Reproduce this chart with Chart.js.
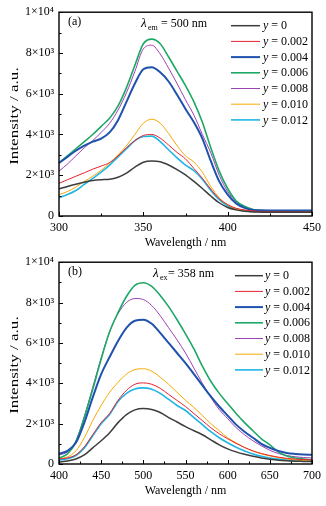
<!DOCTYPE html>
<html><head><meta charset="utf-8">
<script src="https://cdn.jsdelivr.net/npm/chart.js@4"></script>
<style>
html,body{margin:0;padding:0;background:#fff;}
#wrap{position:relative;width:326px;height:506px;background:#fff;}
#c1{position:absolute;left:0;top:0;width:326px;height:250px;}
#c2{position:absolute;left:0;top:250px;width:326px;height:256px;}
</style></head><body>
<div id="wrap"><canvas id="c1" width="326" height="250"></canvas><canvas id="c2" width="326" height="256"></canvas></div>
<script>
// ---------- data ----------
const seriesNames = ['0','0.002','0.004','0.006','0.008','0.010','0.012'];
const seriesColors = ['#3d3d3d','#e8212e','#1f52ad','#1ea866','#9b42b5','#f6a800','#20b5e4'];
const seriesWidths = [1.5,1,2,1.6,1,1,1.6];
const yTickLabels = ['0','2×10³','4×10³','6×10³','8×10³','1×10⁴'];
const xTitle = 'Wavelength / nm';
const yTitle = 'Intensity / a.u.';

// (a) excitation spectra, λem = 500 nm
const excWavelength = [300,305,310,315,320,325,330,335,340,345,350,355,360,365,370,375,380,385,390,395,400,405,410,415,420,430,440,450];
const exc_y0     = [1330,1450,1560,1660,1740,1780,1800,1900,2100,2400,2640,2700,2660,2500,2280,2020,1700,1350,980,650,420,300,230,200,190,180,180,180];
const exc_y0002  = [1600,1780,1950,2120,2300,2450,2620,2950,3350,3700,3950,4000,3820,3480,3120,2800,2330,1850,1320,850,560,380,300,250,220,210,200,200];
const exc_y0004  = [2600,2900,3200,3450,3650,3800,4100,4700,5600,6500,7200,7300,7050,6600,5950,5250,4600,3800,2700,1700,1050,620,400,300,280,270,270,270];
const exc_y0006  = [2600,2950,3300,3650,4000,4400,4800,5400,6300,7400,8450,8680,8450,7800,7100,6400,5600,4600,3350,2200,1350,750,480,320,260,240,240,240];
const exc_y0008  = [2200,2550,2950,3350,3700,4100,4550,5200,6050,7100,8200,8380,7950,7250,6500,5700,4950,4000,3100,2000,1200,700,450,320,270,250,250,250];
const exc_y0010  = [1050,1200,1420,1700,1950,2250,2600,3000,3450,4000,4550,4750,4550,4050,3450,2950,2650,2150,1450,900,550,350,260,220,210,200,200,200];
const exc_y0012  = [900,1050,1250,1550,1850,2150,2500,2900,3300,3700,3900,3920,3650,3250,2850,2500,2220,1800,1250,800,500,330,250,220,210,200,200,200];

// (b) emission spectra, λex = 358 nm
const emiWavelength = [400,410,420,430,440,450,460,470,480,490,500,510,520,530,540,550,560,570,580,590,600,610,620,630,640,650,660,670,680,690,700];
const emi_y0     = [100,150,250,450,800,1150,1550,2050,2450,2680,2750,2700,2550,2300,2080,1850,1650,1450,1200,950,750,600,480,380,300,240,190,160,140,130,120];
const emi_y0002  = [250,300,450,850,1450,2050,2500,3150,3650,3950,4020,3950,3750,3450,3150,2850,2500,2150,1800,1500,1250,1020,820,650,520,420,340,280,240,220,210];
const emi_y0004  = [500,650,1050,2050,3300,4450,5300,6100,6750,7100,7150,6950,6500,6000,5500,5000,4450,3900,3350,2850,2400,1950,1600,1300,1000,800,650,550,500,470,460];
const emi_y0006  = [300,500,1100,2300,3700,5200,6550,7500,8300,8850,8980,8800,8350,7800,7150,6450,5700,4850,4100,3500,3000,2500,2050,1650,1250,950,600,400,300,250,200];
const emi_y0008  = [450,600,1150,2350,3800,5250,6550,7450,8000,8200,8150,7850,7350,6750,6150,5500,4750,4000,3300,2700,2250,1800,1450,1150,900,680,520,420,360,320,300];
const emi_y0010  = [250,350,650,1300,2150,2900,3550,4050,4450,4680,4720,4600,4300,3950,3550,3160,2800,2400,2000,1650,1300,1050,820,640,500,400,320,250,200,170,150];
const emi_y0012  = [200,260,420,800,1400,2000,2450,3100,3500,3720,3770,3700,3500,3200,2900,2650,2300,1950,1600,1300,1050,830,650,500,380,300,240,190,160,140,130];

const excSeries = [exc_y0,exc_y0002,exc_y0004,exc_y0006,exc_y0008,exc_y0010,exc_y0012];
const emiSeries = [emi_y0,emi_y0002,emi_y0004,emi_y0006,emi_y0008,emi_y0010,emi_y0012];

// ---------- rendering ----------
const SERIF = "'Liberation Serif','Times New Roman',serif";

function buildDatasets(xs, series){
  return series.map((vals,i)=>({
    label: 'y = ' + seriesNames[i],
    data: xs.map((x,k)=>({x:x, y:vals[k]})),
    borderColor: seriesColors[i],
    backgroundColor: seriesColors[i],
    borderWidth: seriesWidths[i],
    pointRadius: 0,
    fill: false,
    cubicInterpolationMode: 'monotone'
  }));
}

function decor(o){
  return {
    id: 'decor',
    afterDatasetsDraw(chart){
      const {ctx, chartArea:a, scales:{x,y}} = chart;
      ctx.save();
      ctx.strokeStyle = '#000';
      ctx.lineWidth = 1;
      for (let v = o.xMin; v <= o.xMax; v += o.xMinor){
        const px = Math.round(x.getPixelForValue(v)) + 0.5;
        const major = ((v - o.xMin) % o.xMajor) === 0;
        ctx.beginPath(); ctx.moveTo(px, a.bottom); ctx.lineTo(px, a.bottom - (major ? 4 : 2.5)); ctx.stroke();
      }
      for (let v = 0; v <= 10000; v += 1000){
        const py = Math.round(y.getPixelForValue(v)) + 0.5;
        const major = (v % 2000) === 0;
        ctx.beginPath(); ctx.moveTo(a.left, py); ctx.lineTo(a.left + (major ? 4 : 2.5), py); ctx.stroke();
      }
      ctx.lineWidth = 1.4;
      ctx.strokeRect(a.left, a.top, a.right - a.left, a.bottom - a.top);
      ctx.restore();
    },
    afterDraw(chart){
      const {ctx, chartArea:a} = chart;
      ctx.save();
      ctx.fillStyle = '#000';
      ctx.textBaseline = 'alphabetic';
      // panel label
      ctx.font = '12px ' + SERIF;
      ctx.fillText(o.panel, 68, a.top + 13);
      // lambda annotation
      ctx.font = 'italic 13px ' + SERIF;
      ctx.fillText('λ', o.lamX, a.top + 15);
      ctx.font = '8px ' + SERIF;
      ctx.fillText(o.sub, o.lamX + 7, a.top + 18);
      ctx.font = '12px ' + SERIF;
      ctx.fillText(o.lamText, o.lamX + o.lamGap, a.top + 15);
      // legend
      chart.data.datasets.forEach((ds,i)=>{
        const cy = a.top + 13.5 + i*15.7;
        ctx.strokeStyle = ds.borderColor;
        ctx.lineWidth = ds.borderWidth;
        ctx.beginPath(); ctx.moveTo(o.legL1, cy); ctx.lineTo(o.legL2, cy); ctx.stroke();
        ctx.textBaseline = 'middle';
        ctx.font = 'italic 12px ' + SERIF;
        ctx.fillText('y', o.legT, cy + 0.5);
        const w = ctx.measureText('y').width;
        ctx.font = '12px ' + SERIF;
        ctx.fillText(' = ' + seriesNames[i], o.legT + w, cy + 0.5);
      });
      // y axis title (horizontally stretched as in the reference)
      ctx.translate(15, (a.top + a.bottom)/2 + 2);
      ctx.rotate(-Math.PI/2);
      ctx.scale(1.42, 1);
      ctx.textAlign = 'center';
      ctx.textBaseline = 'middle';
      ctx.font = '12px ' + SERIF;
      ctx.fillText(yTitle, 0, 0);
      ctx.restore();
    }
  };
}

function makeChart(id, xs, series, o){
  return new Chart(document.getElementById(id), {
    type: 'line',
    data: { datasets: buildDatasets(xs, series) },
    options: {
      responsive: false,
      animation: false,
      events: [],
      layout: { padding: { left: 0, right: 14, top: o.padTop, bottom: 0 } },
      plugins: { legend: { display: false }, tooltip: { enabled: false } },
      scales: {
        x: {
          type: 'linear', min: o.xMin, max: o.xMax,
          afterFit: s => { s.height = o.xHeight; },
          afterBuildTicks: s => { s.ticks = []; for (let v = o.xMin; v <= o.xMax; v += o.xMajor) s.ticks.push({value: v}); },
          grid: { display: false, drawTicks: false },
          border: { display: false },
          ticks: { color: '#000', font: { family: SERIF, size: 12 }, padding: 5, maxRotation: 0, autoSkip: false },
          title: { display: true, text: xTitle, color: '#000', font: { family: SERIF, size: 12 }, padding: { top: 0, bottom: o.titlePad } }
        },
        y: {
          type: 'linear', min: 0, max: 10000,
          afterFit: s => { s.width = 59; },
          grid: { display: false, drawTicks: false },
          border: { display: false },
          ticks: { stepSize: 2000, color: '#000', font: { family: SERIF, size: 12 }, padding: 5,
                   callback: v => yTickLabels[Math.round(v/2000)] }
        }
      }
    },
    plugins: [decor(o)]
  });
}

makeChart('c1', excWavelength, excSeries, {
  xMin: 300, xMax: 450, xMajor: 50, xMinor: 25, padTop: 12, xHeight: 34, titlePad: 0,
  panel: '(a)', lamX: 141, sub: 'em', lamGap: 20, lamText: '= 500 nm',
  legL1: 231, legL2: 260, legT: 263
});
makeChart('c2', emiWavelength, emiSeries, {
  xMin: 400, xMax: 700, xMajor: 50, xMinor: 25, padTop: 11, xHeight: 42, titlePad: 8,
  panel: '(b)', lamX: 153, sub: 'ex', lamGap: 15, lamText: '= 358 nm',
  legL1: 235, legL2: 263, legT: 265
});
</script>
</body></html>
